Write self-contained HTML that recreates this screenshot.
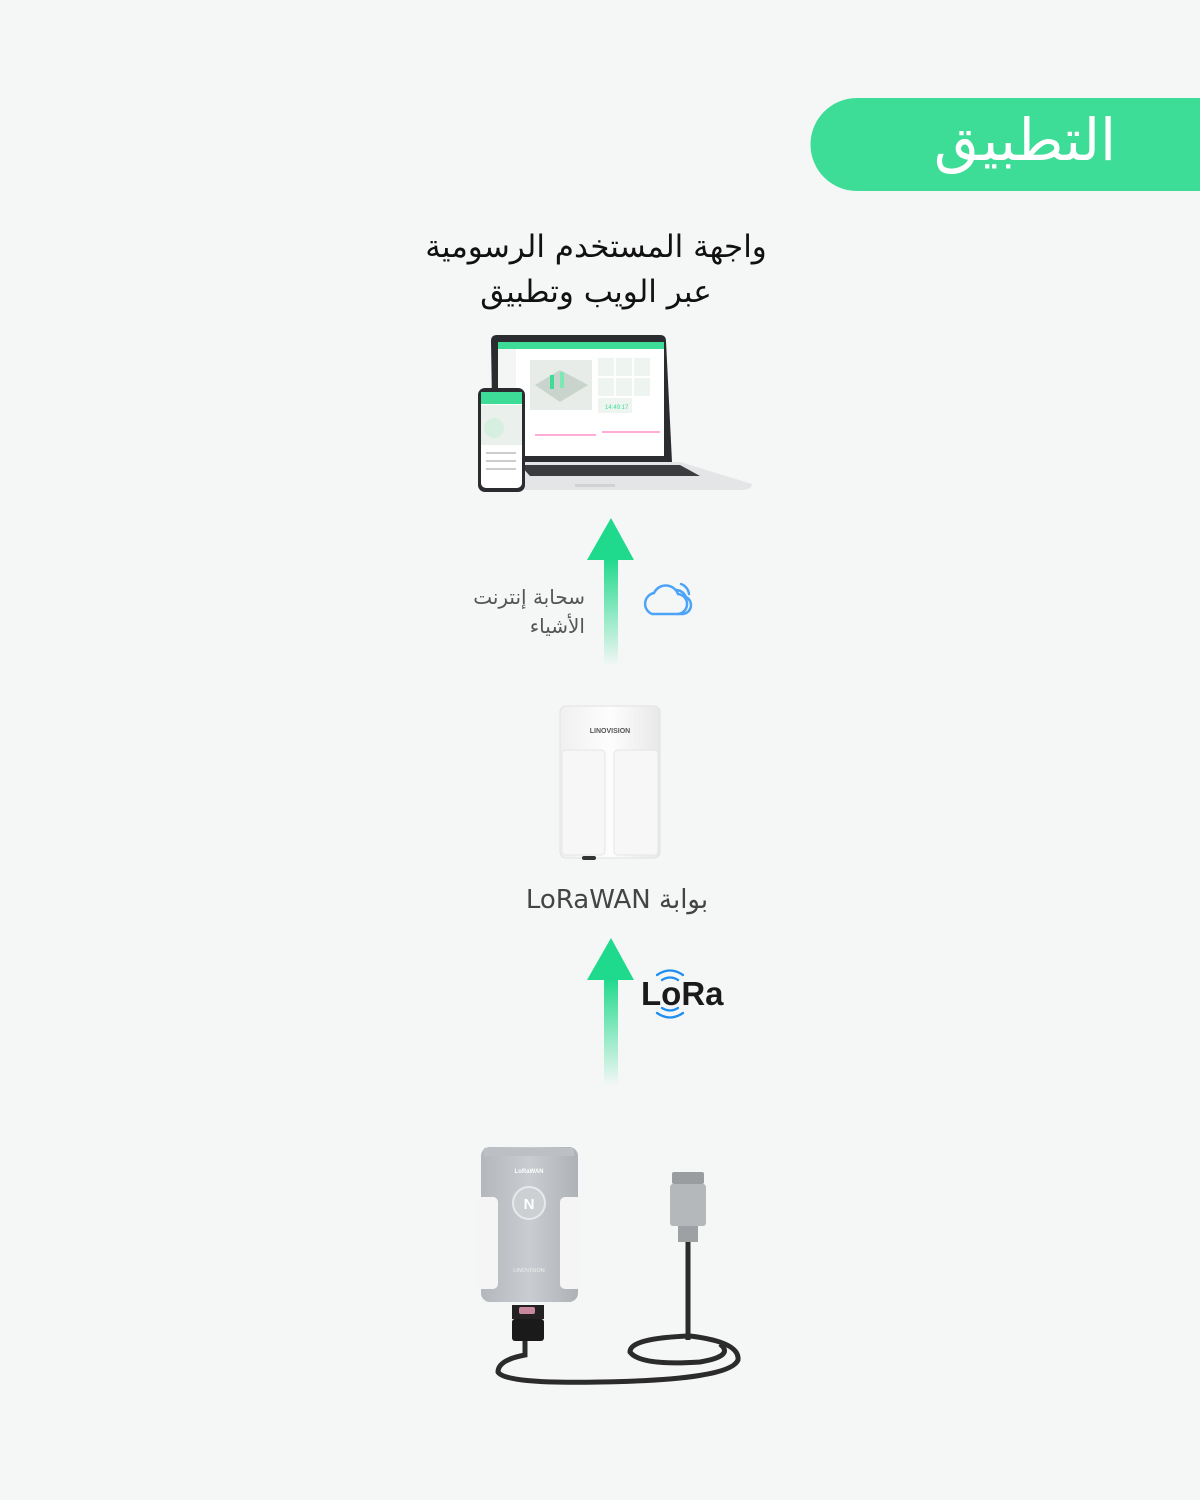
<!DOCTYPE html>
<html><head><meta charset="utf-8">
<style>
html,body{margin:0;padding:0;background:#f5f7f6;}
svg{display:block}
</style></head>
<body>
<svg width="1200" height="1500" viewBox="0 0 1200 1500" xmlns="http://www.w3.org/2000/svg">
<defs>
<linearGradient id="ag" x1="0" y1="0" x2="0" y2="1">
<stop offset="0" stop-color="#1fd98c"/>
<stop offset="1" stop-color="#1fd98c" stop-opacity="0"/>
</linearGradient>
<linearGradient id="dev" x1="0" y1="0" x2="1" y2="0">
<stop offset="0" stop-color="#b4b8bd"/><stop offset="0.5" stop-color="#c9ccd0"/><stop offset="1" stop-color="#aeb2b7"/>
</linearGradient>
<linearGradient id="gw" x1="0" y1="0" x2="1" y2="0">
<stop offset="0" stop-color="#f0f0f0"/><stop offset="0.5" stop-color="#fdfdfd"/><stop offset="1" stop-color="#e8e8e8"/>
</linearGradient>
</defs>
<rect width="1200" height="1500" fill="#f5f7f6"/>

<path d="M857 98 H1200 V191 H857 A46.5 46.5 0 0 1 857 98 Z" fill="#3ddc97"/>
<text x="1025" y="160" text-anchor="middle" font-family="DejaVu Sans, sans-serif" font-size="58" fill="#fff">التطبيق</text>

<text x="596" y="257" text-anchor="middle" font-family="DejaVu Sans, sans-serif" font-size="31" fill="#111">واجهة المستخدم الرسومية</text>
<text x="596" y="302" text-anchor="middle" font-family="DejaVu Sans, sans-serif" font-size="31" fill="#111">عبر الويب وتطبيق</text>

<path d="M497 335 H660 Q666 335 666 341 L672 462 H493 L491 341 Q491 335 497 335Z" fill="#2a2c2f"/>
<rect x="498" y="342" width="166" height="114" fill="#fff"/>
<rect x="498" y="342" width="166" height="7" fill="#3ddc97"/>
<rect x="498" y="349" width="18" height="107" fill="#f4f5f5"/>
<rect x="530" y="360" width="62" height="50" fill="#e8ece9"/>
<path d="M535 385 L560 370 L588 385 L560 402Z" fill="#c9d4cc"/>
<rect x="550" y="375" width="4" height="14" fill="#3ddc97"/><rect x="560" y="372" width="4" height="16" fill="#7ce8b4"/>
<g fill="#eef5f0"><rect x="598" y="358" width="16" height="18"/><rect x="616" y="358" width="16" height="18"/><rect x="634" y="358" width="16" height="18"/><rect x="598" y="378" width="16" height="18"/><rect x="616" y="378" width="16" height="18"/><rect x="634" y="378" width="16" height="18"/><rect x="598" y="398" width="34" height="15"/></g>
<text x="605" y="409" font-family="Liberation Sans, sans-serif" font-size="6" fill="#3ddc97">14:49:17</text>
<path d="M535 435 H596 M602 432 H660" stroke="#f29" stroke-width="0.8"/>
<path d="M495 462 H680 L752 484 Q752 490 740 490 H525 L495 470Z" fill="#e4e5e6"/>
<path d="M520 465 H680 L700 476 H530Z" fill="#3a3c3f"/>
<rect x="575" y="484" width="40" height="3" fill="#d0d2d4"/>
<rect x="478" y="388" width="47" height="104" rx="7" fill="#2a2c2f"/>
<rect x="481" y="392" width="41" height="96" rx="5" fill="#fff"/>
<rect x="481" y="392" width="41" height="12" fill="#3ddc97"/>
<rect x="481" y="405" width="41" height="40" fill="#eaf0ec"/>
<circle cx="494" cy="428" r="10" fill="#d6efe1"/>
<rect x="486" y="452" width="30" height="2" fill="#ccc"/><rect x="486" y="460" width="30" height="2" fill="#ccc"/><rect x="486" y="468" width="30" height="2" fill="#ccc"/>

<rect x="604" y="558" width="14" height="108" fill="url(#ag)"/>
<path d="M611 518 L634 560 L587 560Z" fill="#1fd98c"/>
<text x="585" y="604" text-anchor="end" font-family="DejaVu Sans, sans-serif" font-size="20" fill="#555">سحابة إنترنت</text>
<text x="585" y="633" text-anchor="end" font-family="DejaVu Sans, sans-serif" font-size="20" fill="#555">الأشياء</text>
<g fill="none" stroke="#4da3f7" stroke-width="2.5" stroke-linecap="round">
<path d="M652 614 H676 A10 10 0 0 0 678 594 A13 13 0 0 0 654 593 A11 11 0 0 0 652 614Z"/>
<path d="M678 614 H683 A9 9 0 0 0 686 597 A12 12 0 0 0 677 590"/>
<path d="M681 584 A12 12 0 0 1 689 594"/>
</g>

<rect x="560" y="706" width="100" height="152" rx="6" fill="url(#gw)" stroke="#e2e2e2"/>
<rect x="562" y="750" width="43" height="105" rx="4" fill="#f7f7f7" stroke="#e6e6e6"/>
<rect x="614" y="750" width="44" height="105" rx="4" fill="#f7f7f7" stroke="#e6e6e6"/>
<text x="610" y="733" text-anchor="middle" font-family="Liberation Sans, sans-serif" font-size="7" font-weight="bold" fill="#555">LINOVISION</text>
<rect x="582" y="856" width="14" height="4" rx="2" fill="#333"/>
<text x="617" y="908" text-anchor="middle" font-family="DejaVu Sans, sans-serif" font-size="26" fill="#444">LoRaWAN بوابة</text>

<rect x="604" y="978" width="14" height="108" fill="url(#ag)"/>
<path d="M611 938 L634 980 L587 980Z" fill="#1fd98c"/>
<g fill="none" stroke="#1e8ef0" stroke-width="2.3" stroke-linecap="round">
<path d="M657 975 Q670 966 683 975"/><path d="M662 980 Q670 975 678 980"/>
<path d="M657 1013 Q670 1022 683 1013"/><path d="M662 1008 Q670 1013 678 1008"/>
</g>
<text x="641" y="1005" font-family="Liberation Sans, sans-serif" font-size="33" font-weight="bold" fill="#1a1a1a">LoRa</text>

<path d="M688 1242 V1340" stroke="#2b2b2b" stroke-width="5" fill="none"/>
<path d="M525 1340 V1355 Q498 1360 498 1372 Q505 1384 600 1382 Q730 1380 738 1360 Q740 1342 690 1336 Q630 1338 630 1352 Q640 1366 700 1362 Q735 1356 720 1344" stroke="#2b2b2b" stroke-width="5" fill="none"/>
<rect x="672" y="1172" width="32" height="12" rx="2" fill="#9a9da0"/>
<rect x="670" y="1184" width="36" height="42" rx="3" fill="#b5b8bb"/>
<rect x="678" y="1226" width="20" height="16" fill="#9ea1a4"/>
<rect x="481" y="1147" width="97" height="155" rx="9" fill="url(#dev)"/>
<rect x="484" y="1148" width="90" height="8" fill="#bcc0c4"/>
<text x="529" y="1173" text-anchor="middle" font-family="Liberation Sans, sans-serif" font-size="6" font-weight="bold" fill="#fff">LoRaWAN</text>
<circle cx="529" cy="1203" r="16" fill="#cdd0d3" stroke="#e8e9ea" stroke-width="2"/>
<text x="529" y="1209" text-anchor="middle" font-family="Liberation Sans, sans-serif" font-size="15" font-weight="bold" fill="#fff">N</text>
<rect x="476" y="1197" width="22" height="92" rx="5" fill="#f5f5f5"/>
<rect x="560" y="1197" width="22" height="92" rx="5" fill="#f5f5f5"/>
<text x="529" y="1272" text-anchor="middle" font-family="Liberation Sans, sans-serif" font-size="5.5" fill="#eee">LINOVISION</text>
<rect x="512" y="1305" width="32" height="14" fill="#222"/>
<rect x="519" y="1307" width="16" height="7" rx="2" fill="#c8899c"/>
<rect x="512" y="1319" width="32" height="22" rx="3" fill="#1a1a1a"/>
</svg>
</body></html>
